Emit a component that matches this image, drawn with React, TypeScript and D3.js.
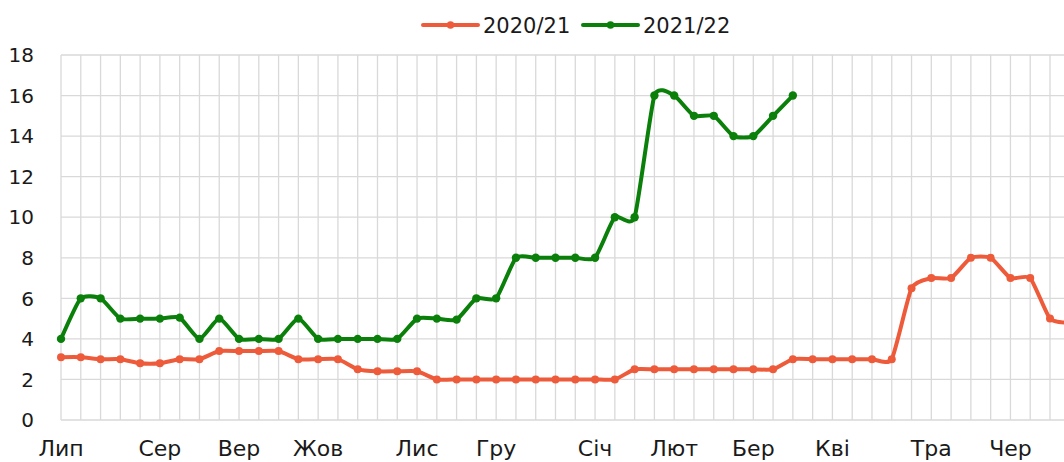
import React from "react";
import * as d3 from "d3";

const seriesNames = ["2020/21", "2021/22"];
const seriesColors = ["#EE5B3B", "#0A800A"];

// weekly points (52 weeks, Jul..Jun)
const weeks: number[] = d3.range(52);

const values2020: number[] = [
  3.1, 3.1, 3.0, 3.0, 2.8, 2.8, 3.0, 3.0, 3.4, 3.4, 3.4, 3.4, 3.0, 3.0, 3.0,
  2.5, 2.4, 2.4, 2.4, 2.0, 2.0, 2.0, 2.0, 2.0, 2.0, 2.0, 2.0, 2.0, 2.0,
  2.5, 2.5, 2.5, 2.5, 2.5, 2.5, 2.5, 2.5, 3.0, 3.0, 3.0, 3.0, 3.0, 3.0,
  6.5, 7.0, 7.0, 8.0, 8.0, 7.0, 7.0, 5.0, 4.8,
];

const values2021: number[] = [
  4, 6, 6, 5, 5, 5, 5.05, 4, 5, 4, 4, 4, 5, 4, 4, 4, 4, 4, 5, 5, 4.95, 6, 6,
  8, 8, 8, 8, 8, 10, 10, 16, 16, 15, 15, 14, 14, 15, 16,
];

const monthLabels = ["Лип", "Сер", "Вер", "Жов", "Лис", "Гру", "Січ", "Лют", "Бер", "Кві", "Тра", "Чер"];
const monthStartWeek = [0, 5, 9, 13, 18, 22, 27, 31, 35, 39, 44, 48];

const yTicks = [0, 2, 4, 6, 8, 10, 12, 14, 16, 18];

const W = 1064;
const H = 462;
const FONT = "'DejaVu Sans', sans-serif";

export default function App() {
  const left = 61;
  const step = 19.78;
  const x = d3.scalePoint<number>().domain(weeks).range([left, left + step * (weeks.length - 1)]);
  const y = d3.scaleLinear().domain([0, 18]).range([420, 55]);

  const line = d3
    .line<number>()
    .x((_, i) => x(i) as number)
    .y((d) => y(d))
    .curve(d3.curveCardinal.tension(0.45));

  const series = [values2020, values2021];

  return (
    <div style={{ position: "absolute", left: 0, top: 0, width: W, height: H, overflow: "hidden", background: "#fff" }}>
      <svg width={W} height={H} style={{ display: "block", fontFamily: FONT }}>
        {yTicks.map((t) => (
          <line key={"h" + t} x1={left} x2={W} y1={y(t)} y2={y(t)} stroke="#D9D9D9" strokeWidth={1.3} />
        ))}
        {weeks.map((w) => (
          <line key={"v" + w} x1={x(w)} x2={x(w)} y1={y(18)} y2={y(0)} stroke="#D9D9D9" strokeWidth={1.3} />
        ))}
        {yTicks.map((t) => (
          <text key={"yl" + t} x={34} y={y(t)} dy="0.36em" textAnchor="end" fontSize={20} fill="#1a1a1a">
            {t}
          </text>
        ))}
        {monthLabels.map((m, i) => (
          <text key={"xl" + m} x={x(monthStartWeek[i])} y={456} textAnchor="middle" fontSize={22} fill="#1a1a1a">
            {m}
          </text>
        ))}
        {series.map((vals, si) => (
          <g key={"s" + si}>
            <path d={line(vals) || ""} fill="none" stroke={seriesColors[si]} strokeWidth={4} strokeLinejoin="round" strokeLinecap="round" />
            {vals.map((v, i) => (
              <circle key={i} cx={x(i)} cy={y(v)} r={si === 0 ? 4 : 4.2} fill={seriesColors[si]} />
            ))}
          </g>
        ))}
        {seriesNames.map((name, i) => {
          const lx = i === 0 ? 423 : 583;
          return (
            <g key={"lg" + i}>
              <line x1={lx} x2={lx + 55} y1={25} y2={25} stroke={seriesColors[i]} strokeWidth={4} strokeLinecap="round" />
              <circle cx={lx + 27.5} cy={25} r={3.8} fill={seriesColors[i]} />
              <text x={lx + 60} y={25} dy="0.36em" fontSize={21} fill="#1a1a1a">
                {name}
              </text>
            </g>
          );
        })}
      </svg>
    </div>
  );
}
